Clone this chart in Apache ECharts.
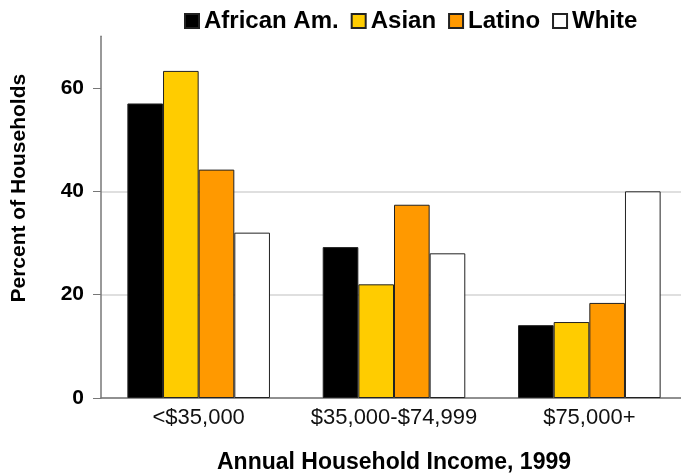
<!DOCTYPE html>
<html>
<head>
<meta charset="utf-8">
<script src="https://cdn.jsdelivr.net/npm/echarts@6/dist/echarts.min.js"></script>
<style>
  html, body { margin: 0; padding: 0; background: #fff; }
  #main { width: 681px; height: 476px; }
</style>
</head>
<body>
<div id="main"></div>
<script>
// income groups and share of households (%) by group
var categories = ['<$35,000', '$35,000-$74,999', '$75,000+'];
var africanAm = [57, 29.2, 14.1];
var asian = [63.3, 22, 14.7];
var latino = [44.2, 37.4, 18.4];
var white = [32, 28, 40];
var yTicks = [0, 20, 40, 60];

var chart = echarts.init(document.getElementById('main'));

function bar(name, data, color) {
    return {
        name: name,
        type: 'bar',
        data: data,
        barGap: '0%',
        barCategoryGap: '27%',
        itemStyle: {
            color: color,
            borderColor: '#222',
            borderWidth: 1
        }
    };
}

var option = {
    animation: false,
    textStyle: { fontFamily: 'Liberation Sans, Arial, sans-serif' },
    legend: {
        top: 4,
        left: 179,
        icon: 'rect',
        itemWidth: 14,
        itemHeight: 14,
        itemGap: 12,
        textStyle: { fontSize: 24, fontWeight: 'bold', color: '#000' },
        data: ['African Am.', 'Asian', 'Latino', 'White']
    },
    grid: {
        left: 101,
        top: 36.3,
        width: 586,
        bottom: 78,
        outerBoundsMode: 'none',
        containLabel: false
    },
    xAxis: {
        type: 'category',
        data: categories,
        name: 'Annual Household Income, 1999',
        nameLocation: 'middle',
        nameGap: 53,
        nameTextStyle: { fontSize: 23, fontWeight: 'bold', color: '#000' },
        axisLine: { lineStyle: { color: '#777', width: 1.5 } },
        axisTick: { show: false },
        axisLabel: { interval: 0, fontSize: 22, color: '#111', margin: 9 }
    },
    yAxis: {
        type: 'value',
        min: 0,
        max: 70,
        interval: 20,
        name: 'Percent of Households',
        nameLocation: 'middle',
        nameGap: 71,
        nameTextStyle: { fontSize: 21, fontWeight: 'bold', color: '#000', padding: [0, 0, 0, 58] },
        axisLine: { show: true, lineStyle: { color: '#777', width: 1.5 } },
        axisTick: { show: true, length: 8, customValues: yTicks, lineStyle: { color: '#777' } },
        axisLabel: { fontSize: 21, fontWeight: 'bold', color: '#000', margin: 17, customValues: yTicks },
        splitLine: { showMaxLine: false, lineStyle: { color: '#d4d4d4', width: 1.5 } }
    },
    series: [
        bar('African Am.', africanAm, '#000000'),
        bar('Asian', asian, '#FFCC00'),
        bar('Latino', latino, '#FF9900'),
        bar('White', white, '#FFFFFF')
    ]
};

chart.setOption(option);
</script>
</body>
</html>
